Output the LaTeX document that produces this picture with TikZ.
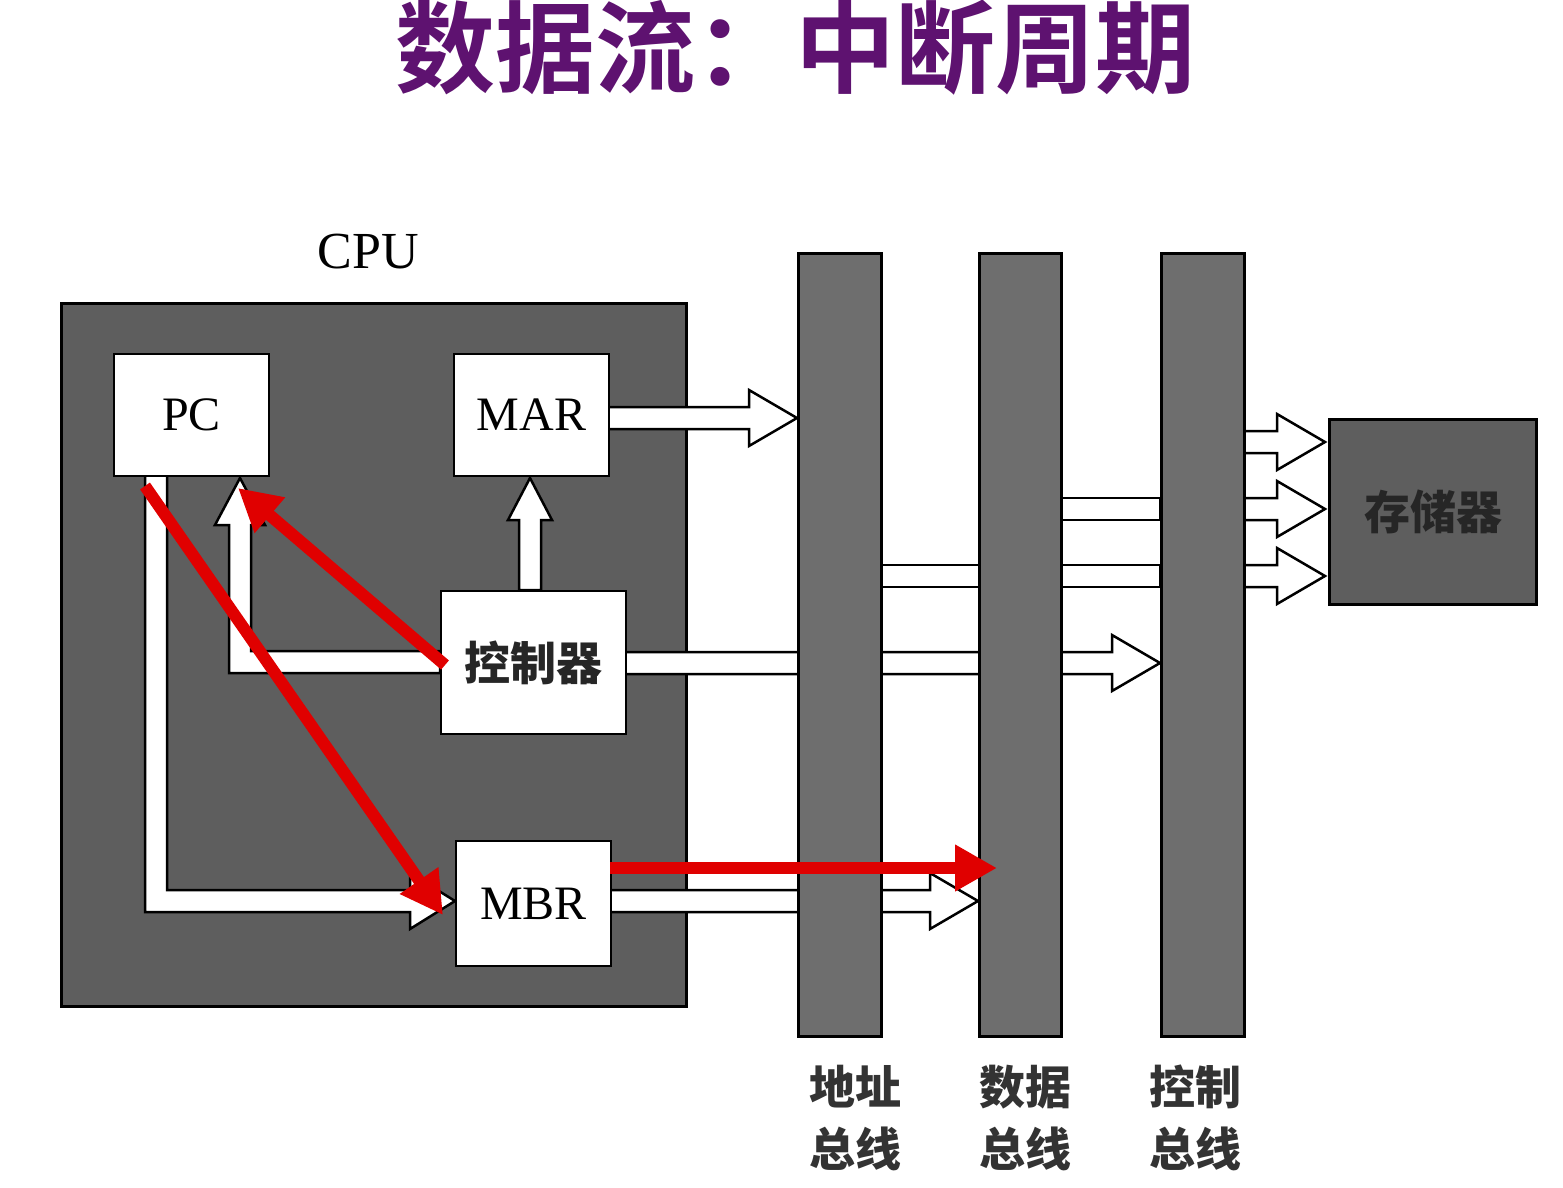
\documentclass[tikz,border=0pt]{standalone}
\usepackage{fontspec}
\newfontfamily\cjk{Noto Sans CJK SC}
\newfontfamily\cjkb{Noto Sans CJK SC Bold}
\setmainfont{Liberation Serif}
\usetikzlibrary{arrows.meta}
\definecolor{titlec}{HTML}{5E1270}
\definecolor{cpug}{HTML}{5E5E5E}
\definecolor{busg}{HTML}{6E6E6E}
\definecolor{redc}{HTML}{E00000}
\tikzset{
  reg/.style={draw=black,line width=2pt,fill=white,inner sep=0pt,font=\fontsize{48}{54}\selectfont},
  bus/.style={draw=black,line width=3pt,fill=busg,inner sep=0pt},
  hollow/.style={draw=black,line width=2.5pt,fill=white,line join=miter},
  redarrow/.style={draw=redc,line width=12pt,-{Triangle[length=42pt,width=44pt]}},
  cjklab/.style={font=\cjk\bfseries\fontsize{46}{62}\selectfont,text=black!80,align=center}
}
\newcommand{\harrow}[3]{\path[hollow] (#1,#2-11)--(#3-48,#2-11)--(#3-48,#2-28)--(#3,#2)--(#3-48,#2+28)--(#3-48,#2+11)--(#1,#2+11)--cycle;}
\newcommand{\hshaft}[3]{\path[hollow] (#1,#2-11) rectangle (#3,#2+11);}
\begin{document}
\begin{tikzpicture}[x=1pt,y=-1pt]
\useasboundingbox (0,0) rectangle (1563,1188);
\fill[white] (0,0) rectangle (1563,1188);
\node[font=\cjkb\fontsize{100}{108}\selectfont,text=titlec] (title) at (795,48) {数据流：中断周期};
\node[font=\fontsize{52}{58}\selectfont] (cpulab) at (368,252) {CPU};
\node[draw=black,line width=3pt,fill=cpug,minimum width=625pt,minimum height=703pt,anchor=north west] (cpu) at (60,302) {};
% hollow arrows behind buses
\harrow{625}{663}{1160}
\hshaft{880}{576}{1160}
\hshaft{1060}{509}{1160}
\harrow{1243}{442}{1325}
\harrow{1243}{509}{1325}
\harrow{1243}{576}{1325}
\harrow{608}{418}{797}
\harrow{610}{901}{978}
% buses
\node[bus,minimum width=83pt,minimum height=783pt,anchor=north west] (abus) at (797,252) {};
\node[bus,minimum width=82pt,minimum height=783pt,anchor=north west] (dbus) at (978,252) {};
\node[bus,minimum width=83pt,minimum height=783pt,anchor=north west] (cbus) at (1160,252) {};
\node[draw=black,line width=3pt,fill=cpug,minimum width=207pt,minimum height=185pt,anchor=north west,font=\cjk\bfseries\fontsize{46}{52}\selectfont,text=black!85] (mem) at (1328,418) {存储器};
\node[cjklab] (al) at (855,1118) {地址\\总线};
\node[cjklab] (dl) at (1025,1118) {数据\\总线};
\node[cjklab] (cl) at (1195,1118) {控制\\总线};
% CPU internal hollow arrows
\path[hollow] (519,590)--(519,520)--(508,520)--(530,478)--(552,520)--(541,520)--(541,590)--cycle;
\path[hollow] (440,651)--(251,651)--(251,525)--(265,525)--(240,478)--(215,525)--(229,525)--(229,673)--(440,673)--cycle;
\path[hollow] (167,475)--(167,890)--(410,890)--(410,873)--(455,901)--(410,929)--(410,912)--(145,912)--(145,475)--cycle;
% registers
\node[reg,minimum width=155pt,minimum height=122pt,anchor=north west] (pc) at (113,353) {PC};
\node[reg,minimum width=155pt,minimum height=122pt,anchor=north west] (mar) at (453,353) {MAR};
\node[reg,minimum width=185pt,minimum height=143pt,anchor=north west,font=\cjk\bfseries\fontsize{46}{52}\selectfont,text=black!85] (ctl) at (440,590) {控制器};
\node[reg,minimum width=155pt,minimum height=125pt,anchor=north west] (mbr) at (455,840) {MBR};
% red arrows
\draw[redarrow] (145,486) -- (443,915);
\draw[redarrow] (445,665) -- (238,488);
\draw[redarrow] (610,868) -- (997,868);
\end{tikzpicture}
\end{document}
